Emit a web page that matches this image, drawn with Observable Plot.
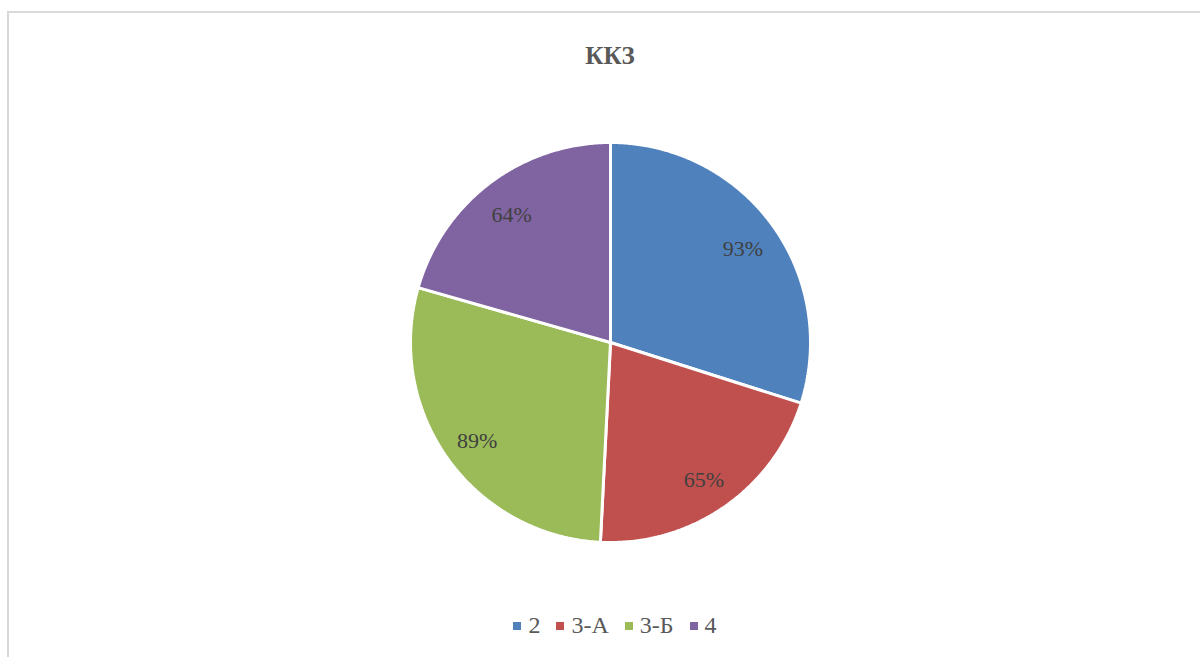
<!DOCTYPE html>
<html>
<head>
<meta charset="utf-8">
<script src="https://cdn.jsdelivr.net/npm/d3@7"></script>
<script src="https://cdn.jsdelivr.net/npm/@observablehq/plot@0.6"></script>
<style>
  html, body { margin: 0; padding: 0; background: #fff; width: 1200px; height: 657px; overflow: hidden; }
  #frame { position: absolute; left: 7px; top: 11px; width: 1300px; height: 700px; border-left: 2px solid #d9d9d9; border-top: 2px solid #d9d9d9; z-index: 5; pointer-events: none; }
  #title { position: absolute; left: 0; width: 1220px; top: 42px; text-align: center; font-family: "Liberation Serif", "Times New Roman", Tinos, serif; font-weight: bold; font-size: 25px; color: #595959; }
  #chart { position: absolute; left: 0; top: 130px; }
  #legend { position: absolute; left: 0; width: 1230px; top: 612px; display: flex; justify-content: center; align-items: center; font-family: "Liberation Serif", "Times New Roman", Tinos, serif; font-size: 24px; color: #595959; }
  .item { display: flex; align-items: center; margin: 0 8px 0 8px; }
  .sw { width: 8px; height: 8px; margin-right: 7px; }
</style>
</head>
<body>
<div id="frame"></div>
<div id="title">ККЗ</div>
<div id="chart"></div>
<div id="legend"></div>
<script>
const categories = ["2", "3-А", "3-Б", "4"];
const values = [93, 65, 89, 64];
const labels = ["93%", "65%", "89%", "64%"];
const colors = ["#4F81BD", "#C0504D", "#9BBB59", "#8064A2"];

const data = categories.map((c, i) => ({cat: c, v: values[i], label: labels[i]}));
const arcs = d3.pie().sort(null).value(d => d.v)(data);

// polygon points for each slice (center -> arc -> center)
const pts = [];
arcs.forEach(a => {
  pts.push({cat: a.data.cat, x: 0, y: 0});
  const n = Math.max(2, Math.ceil((a.endAngle - a.startAngle) / (Math.PI / 360)));
  for (let k = 0; k <= n; k++) {
    const t = a.startAngle + (a.endAngle - a.startAngle) * k / n;
    pts.push({cat: a.data.cat, x: Math.sin(t), y: Math.cos(t)});
  }
  pts.push({cat: a.data.cat, x: 0, y: 0});
});

const lab = arcs.map(a => {
  const m = (a.startAngle + a.endAngle) / 2;
  return {label: a.data.label, x: 0.82 * Math.sin(m), y: 0.82 * Math.cos(m)};
});

const chart = Plot.plot({
  width: 1200,
  height: 424,
  marginLeft: 410,
  marginRight: 390,
  marginTop: 12,
  marginBottom: 12,
  x: {domain: [-1, 1], axis: null},
  y: {domain: [-1, 1], axis: null},
  color: {domain: categories, range: colors},
  style: {background: "transparent", overflow: "visible"},
  marks: [
    Plot.line(pts, {x: "x", y: "y", z: "cat", fill: "cat", stroke: "white", strokeWidth: 3, strokeLinejoin: "miter", curve: "linear"}),
    Plot.text(lab, {x: "x", y: "y", text: "label", dy: 3, fill: "#404040", fontSize: 22, fontFamily: "'Liberation Serif', 'Times New Roman', Tinos, serif"})
  ]
});
document.getElementById("chart").appendChild(chart);

const legend = document.getElementById("legend");
categories.forEach((c, i) => {
  const it = document.createElement("div");
  it.className = "item";
  const sw = document.createElement("div");
  sw.className = "sw";
  sw.style.background = colors[i];
  const tx = document.createElement("span");
  tx.textContent = c;
  it.appendChild(sw);
  it.appendChild(tx);
  legend.appendChild(it);
});
</script>
</body>
</html>
